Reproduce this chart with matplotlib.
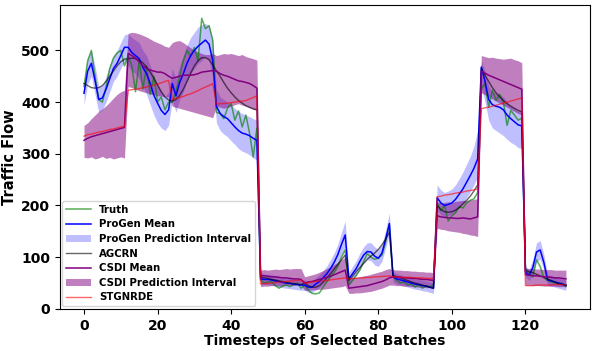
import numpy as np
import matplotlib
matplotlib.use("Agg")
import matplotlib.pyplot as plt

# ── values (12 timesteps per selected batch) ────────────────────────────────
truth = [
    430, 480, 500, 450, 405, 400, 430, 465, 485, 495, 500, 470,
    490, 470, 420, 480, 425, 470, 415, 450, 400, 410, 385, 400,
    400, 420, 450, 480, 500, 488, 506, 480, 562, 542, 548, 520,
    380, 378, 368, 388, 397, 365, 383, 352, 375, 340, 294, 350,
    56, 50, 52, 53, 45, 40, 44, 46, 43, 47, 50, 40,
    46, 36, 30, 29, 31, 42, 52, 62, 70, 82, 100, 114,
    46, 55, 65, 75, 92, 107, 100, 96, 98, 104, 130, 162,
    62, 55, 50, 52, 46, 48, 42, 46, 40, 45, 43, 46,
    205, 190, 200, 170, 180, 186, 198, 195, 205, 210, 213, 225,
    425, 436, 390, 423, 403, 415, 400, 355, 384, 375, 365, 369,
    75, 70, 62, 95, 82, 60, 55, 52, 50, 48, 50, 43,
]

progen_mean = [
    417, 460, 475, 442, 405, 408, 425, 445, 465, 475, 490, 506,
    506, 496, 490, 484, 467, 455, 436, 413, 398, 384, 376, 385,
    436, 412, 438, 455, 475, 490, 500, 508, 514, 520, 512, 480,
    392, 378, 372, 368, 360, 352, 345, 340, 338, 335, 330, 326,
    58, 57, 57, 56, 54, 53, 51, 50, 49, 48, 47, 46,
    46, 42, 42, 48, 53, 60, 68, 78, 90, 105, 125, 143,
    58, 68, 78, 92, 104, 111, 110, 102, 98, 108, 135, 165,
    62, 58, 56, 54, 52, 50, 48, 47, 45, 44, 42, 40,
    215, 205, 200, 202, 205, 212, 222, 232, 245, 258, 272, 290,
    468, 440, 405, 395, 392, 390, 385, 375, 368, 362, 356, 354,
    72, 65, 80, 110, 114, 90, 56, 54, 52, 50, 48, 46,
]

progen_hi = [
    440, 485, 500, 470, 430, 432, 450, 470, 490, 500, 515, 530,
    532, 525, 520, 515, 500, 490, 470, 450, 435, 420, 410, 420,
    465, 445, 470, 490, 510, 525, 535, 545, 550, 552, 548, 520,
    425, 410, 405, 400, 395, 388, 382, 378, 375, 372, 368, 365,
    68, 67, 67, 66, 64, 63, 61, 60, 59, 58, 57, 56,
    56, 52, 53, 60, 66, 74, 83, 95, 108, 125, 148, 170,
    70, 82, 93, 108, 120, 128, 128, 120, 115, 125, 153, 185,
    72, 68, 66, 64, 62, 60, 58, 57, 55, 54, 52, 50,
    240, 230, 225, 228, 232, 240, 252, 265, 280, 295, 315, 345,
    480, 460, 430, 420, 418, 415, 410, 400, 393, 388, 382, 380,
    82, 76, 95, 128, 132, 105, 66, 64, 62, 60, 58, 56,
]

progen_lo = [
    395, 435, 450, 415, 380, 385, 400, 420, 440, 450, 465, 480,
    470, 460, 455, 445, 430, 415, 395, 375, 360, 350, 345, 355,
    405, 380, 405, 420, 440, 455, 465, 475, 480, 488, 480, 448,
    360, 345, 338, 333, 325, 318, 310, 305, 302, 298, 292, 288,
    48, 47, 47, 46, 44, 43, 41, 40, 39, 38, 37, 36,
    36, 32, 32, 37, 41, 47, 54, 62, 73, 86, 104, 120,
    46, 55, 64, 77, 88, 95, 93, 85, 82, 92, 118, 145,
    52, 48, 46, 44, 42, 40, 38, 37, 35, 34, 32, 30,
    192, 182, 178, 180, 183, 188, 196, 205, 215, 227, 240, 255,
    430, 400, 365, 350, 345, 340, 335, 328, 322, 318, 312, 310,
    62, 55, 66, 92, 96, 75, 46, 44, 42, 40, 38, 36,
]

agcrn = [
    436, 432, 428, 427, 428, 432, 440, 450, 460, 470, 478, 483,
    484, 485, 484, 481, 476, 468, 458, 446, 433, 420, 410, 404,
    402, 405, 413, 425, 440, 456, 470, 480, 486, 486, 482, 472,
    460, 450, 438, 427, 418, 410, 403, 398, 393, 390, 387, 385,
    62, 60, 59, 57, 56, 54, 53, 51, 50, 49, 48, 47,
    50, 45, 42, 42, 45, 52, 60, 68, 77, 86, 95, 104,
    55, 63, 72, 80, 88, 96, 102, 108, 115, 124, 135, 148,
    65, 62, 60, 57, 55, 52, 50, 48, 46, 44, 42, 40,
    200, 192, 188, 187, 188, 191, 196, 203, 210, 218, 228, 240,
    465, 452, 440, 428, 418, 410, 403, 397, 392, 388, 384, 381,
    75, 72, 70, 67, 64, 61, 58, 55, 52, 49, 47, 45,
]

csdi_mean = [
    326, 330, 333, 335, 337, 339, 341, 343, 345, 347, 349, 351,
    494, 490, 485, 478, 470, 465, 462, 460, 458, 458, 455, 450,
    446, 448, 450, 452, 452, 452, 453, 455, 458, 459, 460, 461,
    460, 455, 452, 450, 447, 444, 441, 440, 438, 436, 432, 427,
    65, 64, 63, 62, 62, 61, 60, 60, 59, 58, 58, 57,
    50, 52, 53, 55, 57, 59, 61, 63, 66, 69, 72, 75,
    40, 41, 42, 43, 44, 45, 47, 49, 51, 53, 56, 60,
    62, 61, 61, 60, 60, 59, 59, 58, 57, 57, 56, 55,
    180, 178, 177, 176, 176, 175, 175, 176, 175, 174, 176, 178,
    460, 456, 452, 449, 446, 443, 440, 437, 434, 431, 428, 425,
    66, 65, 64, 64, 63, 62, 62, 61, 60, 60, 59, 58,
]

csdi_hi = [
    355, 360, 368, 375, 382, 387, 393, 400, 408, 415, 420, 423,
    533, 535, 534, 532, 529, 526, 522, 518, 515, 512, 508, 506,
    515, 518, 519, 515, 510, 505, 500, 497, 494, 492, 492, 494,
    490, 492, 494, 493, 494, 492, 490, 492, 488, 486, 484, 481,
    75, 76, 75, 76, 77, 76, 77, 78, 77, 78, 78, 78,
    62, 64, 66, 68, 71, 74, 78, 82, 86, 90, 95, 100,
    59, 60, 61, 62, 64, 65, 67, 69, 71, 73, 76, 78,
    76, 75, 75, 74, 74, 73, 73, 72, 72, 71, 71, 70,
    207, 205, 206, 207, 206, 208, 209, 210, 210, 211, 212, 213,
    490, 488, 486, 487, 485, 484, 483, 484, 485, 482, 480, 476,
    79, 78, 78, 77, 77, 76, 76, 76, 75, 75, 75, 75,
]

csdi_lo = [
    293, 292, 294, 290, 292, 295, 291, 293, 290, 292, 294, 292,
    430, 428, 425, 422, 420, 418, 416, 414, 412, 412, 410, 410,
    392, 390, 388, 386, 384, 382, 380, 378, 376, 374, 372, 370,
    392, 390, 388, 390, 392, 395, 397, 394, 392, 389, 386, 384,
    43, 44, 44, 45, 45, 44, 45, 46, 46, 45, 46, 46,
    36, 36, 37, 37, 38, 38, 39, 40, 41, 42, 43, 45,
    30, 30, 31, 31, 32, 33, 34, 36, 38, 40, 43, 46,
    46, 45, 45, 44, 44, 43, 43, 42, 42, 41, 41, 40,
    156, 154, 153, 151, 150, 149, 148, 146, 145, 143, 142, 140,
    418, 414, 410, 406, 402, 398, 394, 390, 386, 382, 378, 375,
    46, 46, 45, 45, 45, 44, 44, 44, 44, 43, 43, 43,
]

stgnrde = [
    334, 337, 338, 340, 342, 343, 345, 347, 348, 350, 352, 353,
    423, 424, 425, 426, 428, 429, 431, 433, 435, 437, 440, 442,
    405, 407, 409, 411, 414, 416, 419, 422, 426, 429, 432, 436,
    396, 397, 397, 398, 399, 400, 401, 402, 403, 406, 409, 412,
    48, 49, 49, 50, 51, 52, 52, 53, 54, 54, 55, 56,
    50, 51, 52, 53, 54, 54, 55, 56, 57, 58, 59, 60,
    58, 59, 59, 60, 60, 61, 61, 62, 62, 63, 63, 64,
    62, 62, 62, 61, 61, 61, 60, 60, 60, 59, 59, 59,
    217, 218, 220, 221, 222, 224, 225, 226, 228, 229, 230, 232,
    387, 389, 390, 392, 394, 396, 398, 400, 402, 404, 406, 408,
    45, 45, 45, 46, 46, 46, 46, 46, 47, 47, 47, 47,
]

t = np.arange(len(truth))

# ── plot ─────────────────────────────────────────────────────────────────────
plt.rcParams["font.weight"] = "bold"
plt.rcParams["axes.labelweight"] = "bold"

fig, ax = plt.subplots(figsize=(5.93, 3.51), dpi=100)
fig.subplots_adjust(left=0.101, right=0.995, top=0.986, bottom=0.12)

ax.plot(t, truth, color="green", alpha=0.65, lw=1.1, label="Truth")
ax.plot(t, progen_mean, color="blue", lw=1.1, label="ProGen Mean")
ax.fill_between(t, progen_lo, progen_hi, color="blue", alpha=0.25, lw=0,
                label="ProGen Prediction Interval")
ax.plot(t, agcrn, color="black", alpha=0.6, lw=1.0, label="AGCRN")
ax.plot(t, csdi_mean, color="purple", lw=1.1, label="CSDI Mean")
ax.fill_between(t, csdi_lo, csdi_hi, color="purple", alpha=0.5, lw=0,
                label="CSDI Prediction Interval")
ax.plot(t, stgnrde, color="red", alpha=0.6, lw=1.0, label="STGNRDE")

ax.set_ylim(0, 588)
ax.set_xticks(range(0, 121, 20))
ax.set_yticks(range(0, 501, 100))
ax.tick_params(labelsize=10)
ax.set_xlabel("Timesteps of Selected Batches", fontsize=10, labelpad=1)
ax.set_ylabel("Traffic Flow", fontsize=10.5, labelpad=3)

ax.legend(loc="lower left", fontsize=7.3, borderaxespad=0.25,
          handlelength=2.4, labelspacing=0.45)

fig.savefig("out.png", dpi=100)
